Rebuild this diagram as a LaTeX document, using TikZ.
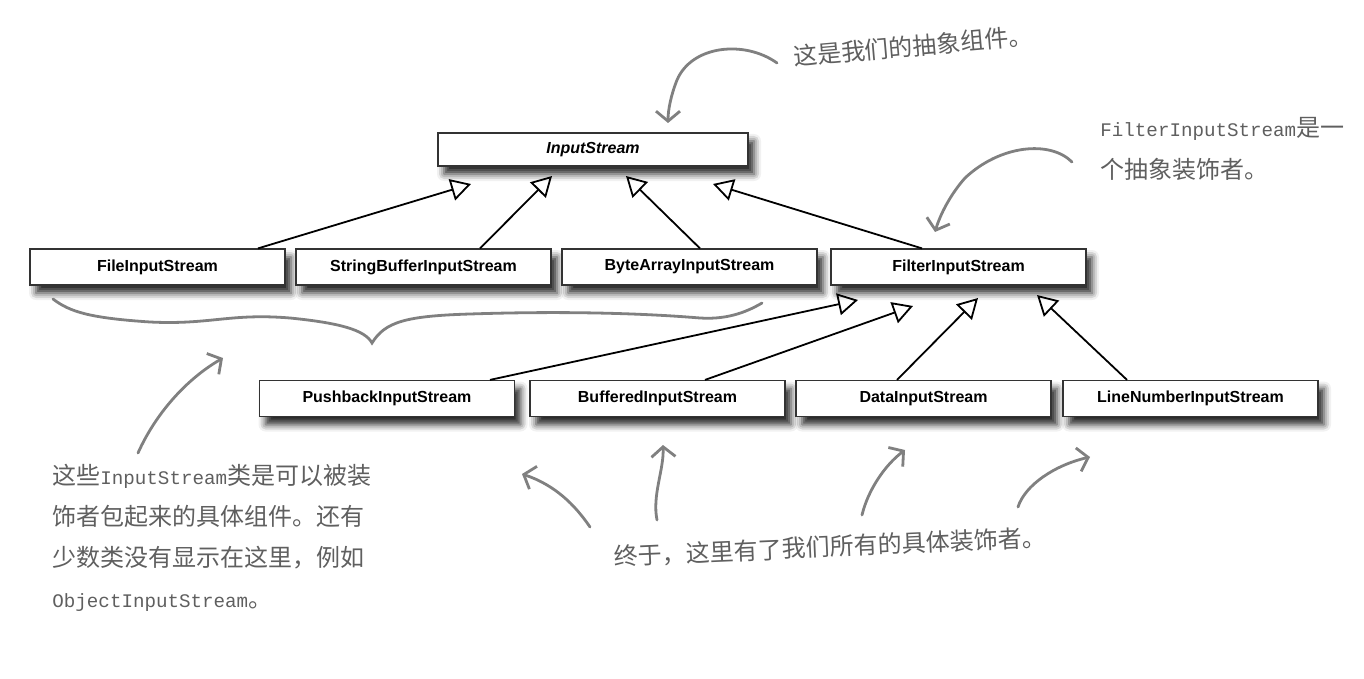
\documentclass[tikz,border=0pt]{standalone}
\usepackage{fontspec}
\setmainfont{Liberation Sans}
\newfontfamily\cjk{Noto Sans CJK SC}
\newfontfamily\monolat{Liberation Mono}[Scale=0.8]
\usetikzlibrary{arrows.meta,shadows.blur}
\definecolor{notecol}{RGB}{95,95,95}
\definecolor{handcol}{RGB}{128,128,128}
\newcommand{\en}[1]{{\monolat #1}}
\begin{document}
\begin{tikzpicture}[x=0.5pt,y=-0.5pt,
 cls/.style={draw=black!80, line width=0.6pt, fill=white, minimum width=127.5pt, minimum height=18pt, inner sep=0pt,
   font=\fontsize{8}{9}\selectfont\bfseries,
   blur shadow={shadow xshift=3pt, shadow yshift=-4pt, shadow blur radius=3.5pt, shadow opacity=85}},
 inh/.style={line width=0.9pt, -{Triangle[open, length=10pt, width=11pt, line width=0.9pt]}},
 hand/.style={draw=handcol, line width=1.4pt, line cap=round, -{Straight Barb[length=5pt, width=12pt, line width=1.4pt]}},
 brace/.style={draw=handcol, line width=1.4pt, line cap=round},
 note/.style={text=notecol, font=\cjk\fontsize{12}{20.5}\selectfont, inner sep=0pt}]
\useasboundingbox (0,0) rectangle (1364,679);

% class boxes
\node[cls, minimum width=155pt, minimum height=16.5pt] (is) at (593,149.5) {\itshape InputStream};
\node[cls] (fis) at (157.5,267) {FileInputStream};
\node[cls] (sbis) at (423.5,267) {StringBufferInputStream};
\node[cls] (bais) at (689.5,267) {ByteArrayInputStream};
\node[cls] (filt) at (958.5,267) {FilterInputStream};
\node[cls] (pbis) at (387,398.5) {PushbackInputStream};
\node[cls] (bis) at (657.5,398.5) {BufferedInputStream};
\node[cls] (dis) at (923.5,398.5) {DataInputStream};
\node[cls] (lnis) at (1190.5,398.5) {LineNumberInputStream};

% arrow tips (free ends)
\coordinate (t1) at (471,184);
\coordinate (t2) at (552,176);
\coordinate (t3) at (626,176);
\coordinate (t4) at (713,184);
\coordinate (t5) at (858,300);
\coordinate (t6) at (913,306);
\coordinate (t7) at (978,298);
\coordinate (t8) at (1037,295);

\draw[inh] (fis.north -| 258,0) -- (t1);
\draw[inh] (sbis.north -| 480,0) -- (t2);
\draw[inh] (bais.north -| 700,0) -- (t3);
\draw[inh] (filt.north -| 922,0) -- (t4);
\draw[inh] (pbis.north -| 490,0) -- (t5);
\draw[inh] (bis.north -| 705,0) -- (t6);
\draw[inh] (dis.north -| 897,0) -- (t7);
\draw[inh] (lnis.north -| 1127,0) -- (t8);

% notes
\node[note, rotate=5] (n1) at (913,46) {这是我们的抽象组件。};
\node[note, anchor=north west, align=left, font=\cjk\fontsize{12}{21}\selectfont] (n2) at (1100,117) {\en{FilterInputStream}是一\\个抽象装饰者。};
\node[note, anchor=north west, align=left] (n3) at (52,464) {这些\en{InputStream}类是可以被装\\饰者包起来的具体组件。还有\\少数类没有显示在这里，例如\\\en{ObjectInputStream}。};
\node[note, rotate=2.5] (n4) at (830,547) {终于，这里有了我们所有的具体装饰者。};

% hand-drawn arrows
\coordinate (h1s) at (777,63);   \coordinate (h1e) at (668,123);
\coordinate (h2s) at (1072,162); \coordinate (h2e) at (935,232);
\coordinate (h3s) at (138,453);  \coordinate (h3e) at (223,358);
\coordinate (h4s) at (590,527);  \coordinate (h4e) at (522,474);
\coordinate (h5s) at (657,520);  \coordinate (h5e) at (663,445);
\coordinate (h6s) at (862,515);  \coordinate (h6e) at (905,450);
\coordinate (h7s) at (1018,507); \coordinate (h7e) at (1090,457);

\draw[hand] (h1s) .. controls (745,40) and (692,45) .. (677,80) .. controls (671,95) and (668,110) .. (h1e);
\draw[hand] (h2s) .. controls (1050,140) and (1000,145) .. (965,178) .. controls (950,195) and (940,215) .. (h2e);
\draw[hand] (h3s) .. controls (155,415) and (185,380) .. (h3e);
\draw[hand] (h4s) .. controls (575,505) and (555,485) .. (h4e);
\draw[hand] (h5s) .. controls (652,495) and (664,470) .. (h5e);
\draw[hand] (h6s) .. controls (868,490) and (885,465) .. (h6e);
\draw[hand] (h7s) .. controls (1025,485) and (1055,465) .. (h7e);

% brace
\coordinate (b1) at (53,299);
\coordinate (bm) at (372,343);
\coordinate (b2) at (762,303);
\draw[brace] (b1) .. controls (70,312) and (90,318) .. (150,322) .. controls (210,325) and (230,313) .. (290,318)
  .. controls (340,323) and (365,330) .. (bm)
  .. controls (385,322) and (405,316) .. (470,314) .. controls (560,311) and (640,313) .. (700,318)
  .. controls (730,320) and (750,310) .. (b2);
\end{tikzpicture}
\end{document}
